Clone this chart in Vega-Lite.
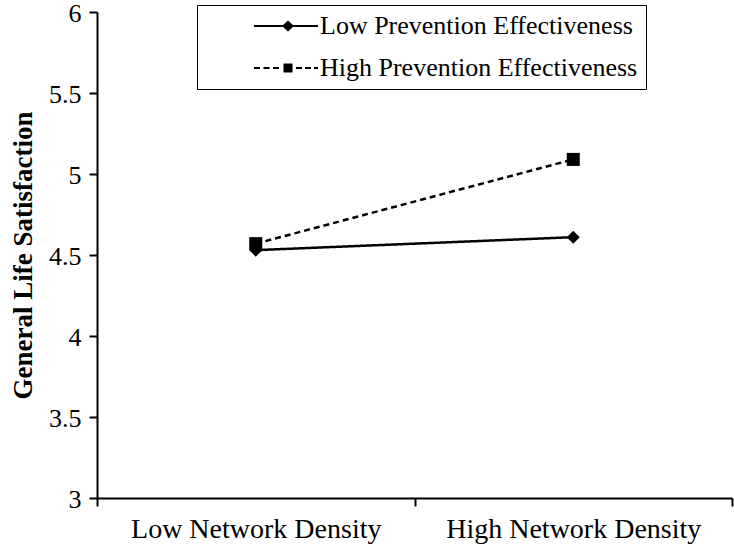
{
  "$schema": "https://vega.github.io/schema/vega-lite/v6.json",
  "width": 635,
  "height": 486,
  "autosize": {"type": "none"},
  "padding": {"left": 97, "top": 12, "right": 2, "bottom": 50},
  "background": "white",
  "config": {
    "view": {"stroke": null},
    "font": "Liberation Serif",
    "axis": {"grid": false, "domainColor": "black", "tickColor": "black", "labelColor": "black", "titleColor": "black", "domainWidth": 2, "tickWidth": 2, "tickSize": 8, "labelFont": "Liberation Serif", "titleFont": "Liberation Serif"}
  },
  "data": {
    "values": [
      {"density": "Low Network Density", "prevention": "Low Prevention Effectiveness", "value": 4.53},
      {"density": "High Network Density", "prevention": "Low Prevention Effectiveness", "value": 4.61},
      {"density": "Low Network Density", "prevention": "High Prevention Effectiveness", "value": 4.57},
      {"density": "High Network Density", "prevention": "High Prevention Effectiveness", "value": 5.09}
    ]
  },
  "encoding": {
    "x": {
      "field": "density", "type": "nominal",
      "sort": ["Low Network Density", "High Network Density"],
      "scale": {"paddingInner": 0, "paddingOuter": 0},
      "axis": {"title": null, "labelAngle": 0, "labelFontSize": 28, "labelPadding": 9, "tickBand": "extent", "labelLimit": 400}
    },
    "y": {
      "field": "value", "type": "quantitative",
      "scale": {"domain": [3, 6], "nice": false, "zero": false},
      "axis": {"title": "General Life Satisfaction", "titleFontSize": 27, "titleFontWeight": "bold", "titlePadding": 11, "labelFontSize": 26, "labelPadding": 8, "labelOffset": 1, "format": ".1~f", "values": [3, 3.5, 4, 4.5, 5, 5.5, 6]}
    }
  },
  "layer": [
    {
      "mark": {"type": "line", "color": "black", "strokeWidth": 2.5},
      "encoding": {
        "strokeDash": {"field": "prevention", "type": "nominal",
          "scale": {"domain": ["Low Prevention Effectiveness", "High Prevention Effectiveness"], "range": [[1, 0], [6, 4]]},
          "legend": null}
      }
    },
    {
      "mark": {"type": "point", "filled": true, "color": "black", "opacity": 1, "size": 170},
      "encoding": {
        "shape": {"field": "prevention", "type": "nominal",
          "scale": {"domain": ["Low Prevention Effectiveness", "High Prevention Effectiveness"], "range": ["diamond", "square"]},
          "legend": null}
      }
    },
    {
      "mark": {"type": "point", "filled": true, "color": "black", "opacity": 0, "size": 400},
      "encoding": {
        "shape": {"field": "prevention", "type": "nominal",
          "scale": {"domain": ["Low Prevention Effectiveness", "High Prevention Effectiveness"],
            "range": [
              "M3.6,-0.11H6.45V0.11H3.6ZM7.55,-0.11H10.0V0.11H7.55ZM6.4,0L7.0,-0.55L7.6,0L7.0,0.55Z",
              "M3.6,-0.11H4.2V0.11H3.6ZM4.55,-0.11H5.15V0.11H4.55ZM5.5,-0.11H6.1V0.11H5.5ZM6.55,-0.45H7.45V0.45H6.55ZM7.8,-0.11H8.4V0.11H7.8ZM8.7,-0.11H9.3V0.11H8.7ZM9.6,-0.11H10.0V0.11H9.6Z"
            ]},
          "legend": {
            "title": null,
            "orient": "none", "legendX": 100, "legendY": -7,
            "strokeColor": "black", "padding": 8, "fillColor": "white",
            "symbolOpacity": 1, "symbolFillColor": "black", "symbolStrokeColor": "transparent", "symbolStrokeWidth": 0, "symbolSize": 400,
            "labelFont": "Liberation Serif", "labelFontSize": 26, "labelColor": "black", "labelOffset": 89, "labelLimit": 0,
            "labelExpr": "datum.label + '\u2003\u2003'",
            "rowPadding": 16,
            "encode": {
              "legend": {"update": {"strokeWidth": {"value": 2}}},
              "symbols": {"update": {"fill": {"value": "black"}, "opacity": {"value": 1}}}
            }
          }
        }
      }
    }
  ],
  "resolve": {"scale": {"shape": "independent"}}
}
